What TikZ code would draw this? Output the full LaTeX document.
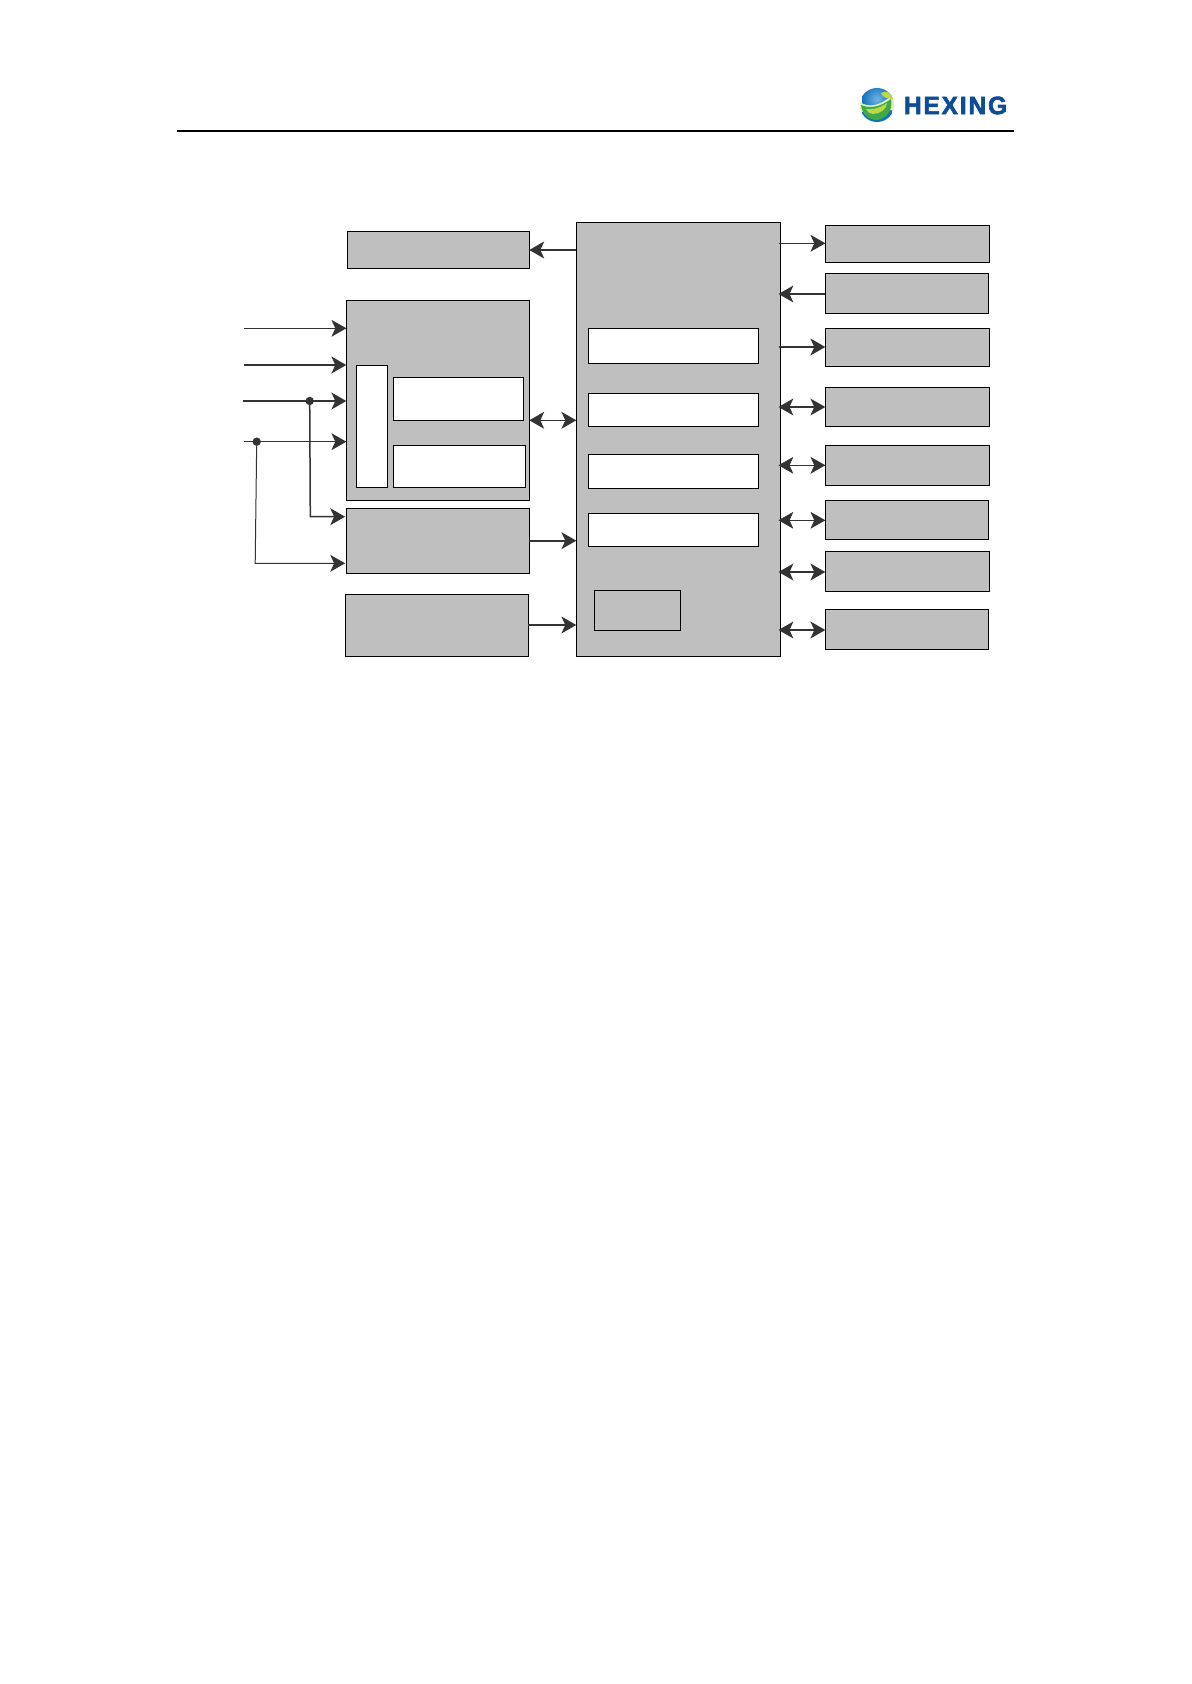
\documentclass[tikz,border=0pt]{standalone}
\usepackage{fontspec}
\setmainfont{Liberation Sans}
\usetikzlibrary{arrows.meta,calc}
\definecolor{boxgray}{HTML}{BFBFBF}
\definecolor{arrowgray}{HTML}{333333}
\definecolor{hexblue}{HTML}{0F4C96}
\definecolor{globelight}{HTML}{6FB4E4}
\definecolor{globedark}{HTML}{1272B8}
\definecolor{globegreen}{HTML}{3FA84A}
\definecolor{globelime}{HTML}{B9D84A}
\tikzset{
  x=0.5pt,y=-0.5pt,
  graybox/.style={draw=black,fill=boxgray,line width=0.55pt,inner sep=0pt,outer sep=0pt},
  whitebox/.style={draw=black,fill=white,line width=0.55pt,inner sep=0pt,outer sep=0pt},
  hd/.tip={Stealth[length=7.4pt,width=8.4pt,inset=1.9pt]},
  wire/.style={draw=arrowgray,line width=0.35pt},
  wirethick/.style={draw=arrowgray,line width=1pt},
  wiremid/.style={draw=arrowgray,line width=0.75pt},
  junction/.style={circle,fill=arrowgray,inner sep=0pt,minimum size=4.2pt,outer sep=0pt},
}
\newcommand{\bx}[6]{%
  \pgfmathsetmacro{\bw}{(#5-#3)*0.5}%
  \pgfmathsetmacro{\bh}{(#6-#4)*0.5}%
  \node[#2,minimum width=\bw pt,minimum height=\bh pt] (#1) at ({(#3+#5)/2},{(#4+#6)/2}) {};}
\begin{document}
\begin{tikzpicture}
\useasboundingbox (0,0) rectangle (1191,1684);
\fill[white] (0,0) rectangle (1191,1684);
% header
\coordinate (ruleL) at (177,131);
\coordinate (ruleR) at (1014,131);
\draw[black,line width=1.25pt] (ruleL) -- (ruleR);
% logo
\begin{scope}
\clip (877,105) ellipse (17.2 and 17);
\shade[inner color=globelight,outer color=globedark] (862,84) rectangle (892,114);
\fill[globedark] (860,114) rectangle (895,123);
\fill[white!60!globelime] (860,102) .. controls (868,108) and (880,106) .. (891,96) -- (895,100) -- (895,110) -- (860,112) -- cycle;
\fill[globegreen] (861,105) .. controls (870,109) and (880,107) .. (891,99) .. controls (893,108) and (888,119) .. (877,120) .. controls (868,120) and (862,114) .. (861,105) -- cycle;
\fill[globelime] (866,109) .. controls (872,110) and (880,108) .. (887,103) .. controls (887,109) and (880,114) .. (873,114) .. controls (869,113) and (867,112) .. (866,109) -- cycle;
\fill[globelime] (881,93) .. controls (886,90) and (892,92) .. (894,99) .. controls (889,99) and (882,98) .. (881,93) -- cycle;
\end{scope}
\node[inner sep=0pt,text=hexblue,font=\bfseries,anchor=center] (logotext) at (955.5,105.5)
  {\resizebox{51.5pt}{8.8pt}{\addfontfeatures{LetterSpace=8,FakeBold=2.5}HEXING}};
% left boxes
\bx{tl}{graybox}{347.3}{231.7}{529.3}{268.3}
\bx{meter}{graybox}{346.3}{300.3}{529.3}{500.3}
\bx{tall}{whitebox}{356.3}{365.3}{387.3}{487.3}
\bx{wa}{whitebox}{393.3}{377.3}{523.7}{420.3}
\bx{wb}{whitebox}{393.3}{445.3}{525.7}{487.3}
\bx{mid}{graybox}{346.3}{508.3}{529.3}{573.3}
\bx{low}{graybox}{345.3}{594.3}{528.3}{656.3}
% main
\bx{main}{graybox}{576.3}{222.3}{780.7}{656.3}
\bx{m1}{whitebox}{588.3}{328.3}{758.7}{363.3}
\bx{m2}{whitebox}{588.3}{393.3}{758.7}{426.3}
\bx{m3}{whitebox}{588.3}{454.3}{758.7}{488.3}
\bx{m4}{whitebox}{588.3}{513.3}{758.7}{546.3}
\bx{m5}{graybox}{594.3}{590.3}{680.3}{630.3}
% right boxes
\bx{r1}{graybox}{825.3}{225.3}{989.3}{262.3}
\bx{r2}{graybox}{825.3}{273.3}{988.3}{313.3}
\bx{r3}{graybox}{825.3}{328.3}{989.3}{366.3}
\bx{r4}{graybox}{825.3}{387.3}{989.3}{426.3}
\bx{r5}{graybox}{825.3}{445.3}{989.3}{485.3}
\bx{r6}{graybox}{825.3}{500.3}{988.3}{539.3}
\bx{r7}{graybox}{825.3}{551.3}{989.3}{591.3}
\bx{r8}{graybox}{825.3}{609.3}{988.3}{649.3}
% level coordinates
\coordinate (in1) at (244,328.3);
\coordinate (in2) at (244,365);
\coordinate (in3) at (243,401);
\coordinate (in4) at (244,441.7);
\coordinate (lev1) at (0,250);
\coordinate (lev2) at (0,420.3);
\coordinate (lev3) at (0,540.7);
\coordinate (lev4) at (0,625);
\foreach \n/\y in {a/243.3,b/294,c/347,d/407,e/465.3,f/520.3,g/572,h/630}{\coordinate (rl\n) at (0,\y);}
\coordinate (stub) at (778.5,0);
% junctions
\node[junction] (j1) at (309.7,401) {};
\node[junction] (j2) at (256.7,441.7) {};
\coordinate (c1) at (310.3,516.7);
\coordinate (c2) at (255.2,563.3);
% left inputs
\draw[wire,-{hd}] (in1) -- (meter.west |- in1);
\draw[wirethick,-{hd}] (in2) -- (meter.west |- in2);
\draw[wirethick,-{hd}] (in3) -- (meter.west |- in3);
\draw[wire,-{hd}] (in4) -- (meter.west |- in4);
\draw[wiremid,-{hd}] (j1) -- (c1) -- ([xshift=-0.6pt]mid.west |- c1);
\draw[wiremid,line width=0.5pt,-{hd}] (j2) -- (c2) -- ([xshift=-0.6pt]mid.west |- c2);
% left to main
\draw[wirethick,-{hd}] (main.west |- lev1) -- (tl.east |- lev1);
\draw[wiremid,{hd}-{hd}] (meter.east |- lev2) -- (main.west |- lev2);
\draw[wirethick,-{hd}] (mid.east |- lev3) -- (main.west |- lev3);
\draw[wirethick,-{hd}] (low.east |- lev4) -- (main.west |- lev4);
% right side
\draw[wire,-{hd}] (stub |- rla) -- (r1.west |- rla);
\draw[wirethick,-{hd}] (r2.west |- rlb) -- (stub |- rlb);
\draw[wirethick,-{hd}] (stub |- rlc) -- (r3.west |- rlc);
\draw[wiremid,{hd}-{hd}] (stub |- rld) -- (r4.west |- rld);
\draw[wire,{hd}-{hd}] (stub |- rle) -- (r5.west |- rle);
\draw[wire,{hd}-{hd}] (stub |- rlf) -- (r6.west |- rlf);
\draw[wirethick,{hd}-{hd}] (stub |- rlg) -- (r7.west |- rlg);
\draw[wirethick,{hd}-{hd}] (stub |- rlh) -- (r8.west |- rlh);
\end{tikzpicture}
\end{document}
